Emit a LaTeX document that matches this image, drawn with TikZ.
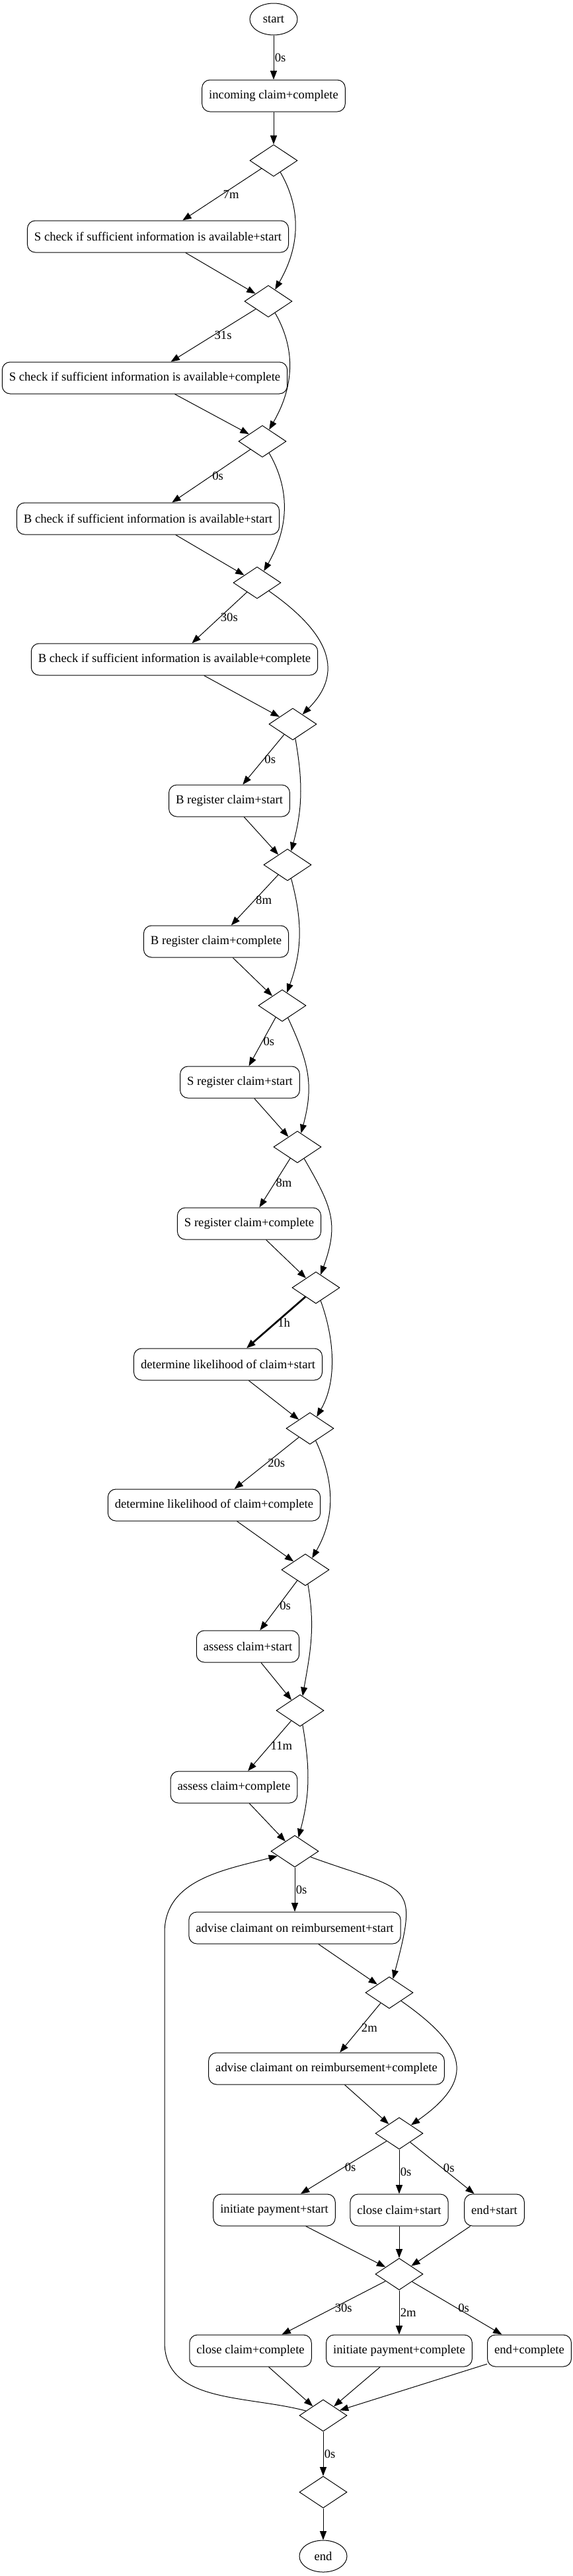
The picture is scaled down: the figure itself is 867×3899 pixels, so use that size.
\documentclass[tikz,border=0pt]{standalone}
\usepackage{fontspec}
\setmainfont{Liberation Serif}
\usetikzlibrary{arrows.meta,shapes.geometric}

\begin{document}
\begin{tikzpicture}[x=0.75pt,y=-0.75pt,
    act/.style={draw,line width=0.75pt,rounded corners=9pt,minimum height=36pt,inner xsep=7.9pt,inner ysep=0pt,font=\fontsize{14pt}{16pt}\selectfont},
    gate/.style={draw,line width=0.75pt,diamond,minimum width=54pt,minimum height=36pt,inner sep=0pt},
    term/.style={draw,line width=0.75pt,ellipse,minimum width=54pt,minimum height=36pt,inner sep=0pt,font=\fontsize{14pt}{16pt}\selectfont},
    flow/.style={-{Stealth[length=10pt,width=7.5pt,inset=0pt]},line width=0.75pt},
    dur/.style={anchor=west,inner sep=1pt,font=\fontsize{14pt}{16pt}\selectfont}]
    \useasboundingbox (0,0) rectangle (867,3899);

    % activities and gates
    \node[term] (st) at (414,29) {start};
    \node[act] (inc) at (414,145) {incoming claim+complete};
    \node[gate] (d1) at (414,243) {};
    \node[act] (s1) at (239,358) {S check if sufficient information is available+start};
    \node[gate] (d2) at (406,456) {};
    \node[act] (s2) at (219,572) {S check if sufficient information is available+complete};
    \node[gate] (d3) at (397,668) {};
    \node[act] (b1) at (224,785) {B check if sufficient information is available+start};
    \node[gate] (d4) at (389,882) {};
    \node[act] (b2) at (264,998) {B check if sufficient information is available+complete};
    \node[gate] (d5) at (443,1096) {};
    \node[act] (br1) at (347,1212) {B register claim+start};
    \node[gate] (d6) at (435,1309) {};
    \node[act] (br2) at (327,1425) {B register claim+complete};
    \node[gate] (d7) at (427,1522) {};
    \node[act] (sr1) at (363,1638) {S register claim+start};
    \node[gate] (d8) at (450,1736) {};
    \node[act] (sr2) at (377,1852) {S register claim+complete};
    \node[gate] (d9) at (478,1949) {};
    \node[act] (dl1) at (345,2065) {determine likelihood of claim+start};
    \node[gate] (d10) at (469,2162) {};
    \node[act] (dl2) at (324,2278) {determine likelihood of claim+complete};
    \node[gate] (d11) at (462,2376) {};
    \node[act] (as1) at (375,2492) {assess claim+start};
    \node[gate] (d12) at (454,2589) {};
    \node[act] (as2) at (354,2705) {assess claim+complete};
    \node[gate] (d13) at (446,2802) {};
    \node[act] (ad1) at (446,2918) {advise claimant on reimbursement+start};
    \node[gate] (d14) at (589,3016) {};
    \node[act] (ad2) at (494,3131) {advise claimant on reimbursement+complete};
    \node[gate] (d15) at (604,3229) {};
    \node[act] (ip1) at (415,3345) {initiate payment+start};
    \node[act] (cc1) at (604,3345) {close claim+start};
    \node[act] (e1) at (748,3345) {end+start};
    \node[gate] (d16) at (604,3442) {};
    \node[act] (cc2) at (379,3558) {close claim+complete};
    \node[act] (ip2) at (604,3558) {initiate payment+complete};
    \node[act] (e2) at (801,3558) {end+complete};
    \node[gate] (d17) at (489,3656) {};
    \node[gate] (d18) at (489,3772) {};
    \node[term] (fin) at (489,3869) {end};

    % main line
    \draw[flow] (st) -- node[dur] {0s} (inc);
    \draw[flow] (inc) -- (d1);
    \draw[flow] (d1) -- node[dur] {7m} (s1);
    \draw[flow] (s1) -- (d2);
    \draw[flow] (d2) -- node[dur] {31s} (s2);
    \draw[flow] (s2) -- (d3);
    \draw[flow] (d3) -- node[dur] {0s} (b1);
    \draw[flow] (b1) -- (d4);
    \draw[flow] (d4) -- node[dur] {30s} (b2);
    \draw[flow] (b2) -- (d5);
    \draw[flow] (d5) -- node[dur] {0s} (br1);
    \draw[flow] (br1) -- (d6);
    \draw[flow] (d6) -- node[dur] {8m} (br2);
    \draw[flow] (br2) -- (d7);
    \draw[flow] (d7) -- node[dur] {0s} (sr1);
    \draw[flow] (sr1) -- (d8);
    \draw[flow] (d8) -- node[dur] {8m} (sr2);
    \draw[flow] (sr2) -- (d9);
    \draw[flow,line width=2pt] (d9) -- node[dur] {1h} (dl1);
    \draw[flow] (dl1) -- (d10);
    \draw[flow] (d10) -- node[dur] {20s} (dl2);
    \draw[flow] (dl2) -- (d11);
    \draw[flow] (d11) -- node[dur] {0s} (as1);
    \draw[flow] (as1) -- (d12);
    \draw[flow] (d12) -- node[dur] {11m} (as2);
    \draw[flow] (as2) -- (d13);
    \draw[flow] (d13) -- node[dur] {0s} (ad1);
    \draw[flow] (ad1) -- (d14);
    \draw[flow] (d14) -- node[dur] {2m} (ad2);
    \draw[flow] (ad2) -- (d15);

    % skips on the right
    \draw[flow] (d1) to[out=-60,in=60] (d2);
    \draw[flow] (d2) to[out=-60,in=60] (d3);
    \draw[flow] (d3) to[out=-60,in=60] (d4);
    \draw[flow] (d4) to[out=-35,in=45,looseness=1.3] (d5);
    \draw[flow] (d5) to[out=-80,in=75] (d6);
    \draw[flow] (d6) to[out=-75,in=70] (d7);
    \draw[flow] (d7) to[out=-65,in=75,looseness=1.1] (d8);
    \draw[flow] (d8) to[out=-60,in=70,looseness=1.2] (d9);
    \draw[flow] (d9) to[out=-70,in=60,looseness=0.9] (d10);
    \draw[flow] (d10) to[out=-65,in=60] (d11);
    \draw[flow] (d11) to[out=-80,in=80] (d12);
    \draw[flow] (d12) to[out=-80,in=75] (d13);
    \draw[flow] (d13) to[out=-20,in=75,looseness=1.8] (d14);
    \draw[flow] (d14) to[out=-35,in=35,looseness=1.65] (d15);

    % parallel part
    \draw[flow] (d15) -- node[dur] {0s} (ip1);
    \draw[flow] (d15) -- node[dur] {0s} (cc1);
    \draw[flow] (d15) -- node[dur] {0s} (e1);
    \draw[flow] (ip1) -- (d16);
    \draw[flow] (cc1) -- (d16);
    \draw[flow] (e1) -- (d16);
    \draw[flow] (d16) -- node[dur] {30s} (cc2);
    \draw[flow] (d16) -- node[dur] {2m} (ip2);
    \draw[flow] (d16) -- node[dur] {0s} (e2);
    \draw[flow] (cc2) -- (d17);
    \draw[flow] (ip2) -- (d17);
    \draw[flow] (e2) -- (d17);

    % loop back and end
    \coordinate (lpb) at (249,3545);
    \coordinate (lpt) at (249,2925);
    \draw[flow] (d17) to[out=165,in=-90] (lpb) -- (lpt) to[out=90,in=195] (d13);
    \draw[flow] (d17) -- node[dur] {0s} (d18);
    \draw[flow] (d18) -- (fin);
\end{tikzpicture}
\end{document}
